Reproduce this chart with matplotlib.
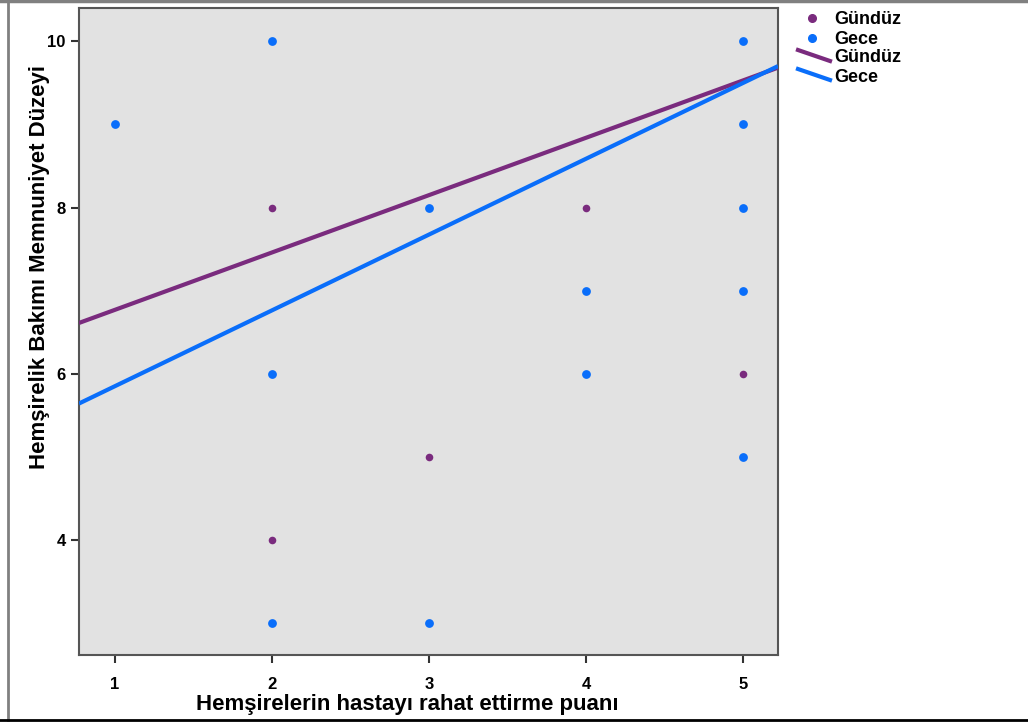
import matplotlib.pyplot as plt
import matplotlib as mpl
from matplotlib.lines import Line2D

mpl.rcParams.update({
    "font.family": ["Liberation Sans", "DejaVu Sans"],
    "font.weight": "bold",
})

# Gündüz (day shift) observations
gunduz_x = [2, 2, 3, 4, 5]
gunduz_y = [8, 4, 5, 8, 6]
# Gece (night shift) observations
gece_x = [1, 2, 2, 2, 3, 3, 4, 4, 5, 5, 5, 5, 5]
gece_y = [9, 10, 6, 3, 8, 3, 7, 6, 10, 9, 8, 7, 5]

# fit lines (intercept, slope)
gunduz_fit = (6.08, 0.69)
gece_fit = (4.94, 0.912)

x_ticks = [1, 2, 3, 4, 5]
y_ticks = [4, 6, 8, 10]

PURPLE = "#7A2B7E"
BLUE = "#0A6EFA"

fig = plt.figure(figsize=(10.28, 7.22), dpi=100)
ax = fig.add_axes([0.0768, 0.093, 0.680, 0.896])
ax.set_facecolor("#E2E2E2")

xlim = (0.77, 5.22)
ax.set_xlim(*xlim)
ax.set_ylim(2.62, 10.4)

for (b, m), c in [(gunduz_fit, PURPLE), (gece_fit, BLUE)]:
    ax.plot(xlim, [b + m * xlim[0], b + m * xlim[1]], color=c, linewidth=3,
            solid_capstyle="butt", zorder=3)

ax.scatter(gunduz_x, gunduz_y, s=30, color=PURPLE, zorder=4, linewidths=0)
ax.scatter(gece_x, gece_y, s=40, color=BLUE, zorder=5, linewidths=0)

ax.set_xticks(x_ticks)
ax.set_yticks(y_ticks)
ax.tick_params(direction="out", length=6, width=1.5, color="#333333",
               labelsize=12)
ax.tick_params(axis="x", pad=10)
for lab in ax.get_xticklabels() + ax.get_yticklabels():
    lab.set_fontweight("bold")
for s in ax.spines.values():
    s.set_color("#555555")
    s.set_linewidth(1.5)

ax.set_xlabel("Hemşirelerin hastayı rahat ettirme puanı", fontsize=16,
              fontweight="bold")
ax.set_ylabel("Hemşirelik Bakımı Memnuniyet Düzeyi", fontsize=16,
              fontweight="bold")
ax.xaxis.set_label_coords(0.47, -0.077)
ax.yaxis.set_label_coords(-0.056, 0.60)
ax.xaxis.label.set_va("center")
ax.yaxis.label.set_va("center")

# legend drawn by hand (diagonal line handles)
W, H = 1028, 722
def fx(px):
    return px / W
def fy(py):
    return 1 - py / H

fig.add_artist(Line2D([fx(812)], [fy(18)], marker="o", markersize=5.5,
                      color=PURPLE, linestyle="none"))
fig.add_artist(Line2D([fx(812)], [fy(38)], marker="o", markersize=5.5,
                      color=BLUE, linestyle="none"))
fig.add_artist(Line2D([fx(798), fx(830)], [fy(50), fy(61)], color=PURPLE,
                      linewidth=3))
fig.add_artist(Line2D([fx(798), fx(830)], [fy(69), fy(80)], color=BLUE,
                      linewidth=3))
for py, txt in [(19, "Gündüz"), (39, "Gece"), (57, "Gündüz"), (77, "Gece")]:
    fig.text(fx(834), fy(py), txt, fontsize=13, fontweight="bold", va="center")

# outer frame
fig.add_artist(Line2D([0, 1], [fy(1), fy(1)], color="#808080", linewidth=2.5))
fig.add_artist(Line2D([fx(8), fx(8)], [fy(0), fy(720)], color="#808080",
                      linewidth=2))
fig.add_artist(Line2D([0, 1], [fy(720), fy(720)], color="black", linewidth=2))

fig.savefig("out.png", dpi=100)
